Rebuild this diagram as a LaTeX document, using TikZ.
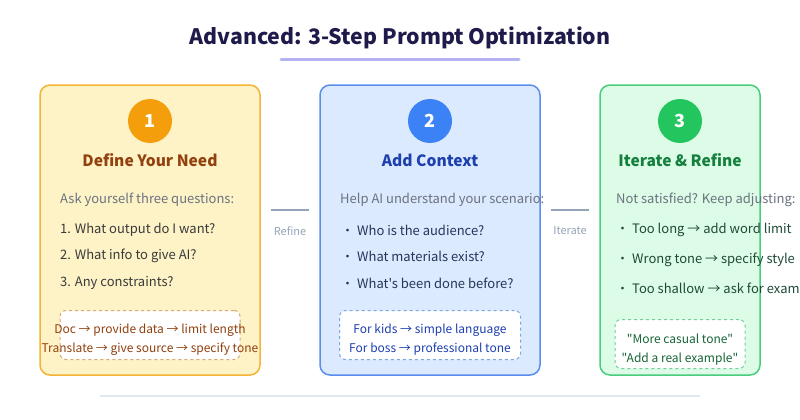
\documentclass[tikz,border=0pt]{standalone}
\usepackage{fontspec}
\setmainfont{Noto Sans CJK SC}[Ligatures=TeXOff]
\usepackage{tikz}
\usetikzlibrary{positioning,calc}
\definecolor{titleink}{HTML}{1E1B4B}
\definecolor{underlinelav}{HTML}{B4B2F2}
\definecolor{leadgray}{HTML}{6B7280}
\definecolor{itemink}{HTML}{3A3A3A}
\definecolor{linkgray}{HTML}{94A3B8}
\definecolor{rulegray}{HTML}{E2E8F0}
\definecolor{amberfill}{HTML}{FEF3C7}
\definecolor{amberline}{HTML}{F5B335}
\definecolor{amberdot}{HTML}{F59E0B}
\definecolor{amberink}{HTML}{92400E}
\definecolor{amberdash}{HTML}{D9A870}
\definecolor{bluefill}{HTML}{DBEAFE}
\definecolor{blueline}{HTML}{5B8DEF}
\definecolor{bluedot}{HTML}{3B82F6}
\definecolor{blueink}{HTML}{1E40AF}
\definecolor{blueitem}{HTML}{25365A}
\definecolor{bluedash}{HTML}{7EA6E0}
\definecolor{greenfill}{HTML}{DCFCE7}
\definecolor{greenline}{HTML}{4ACD7A}
\definecolor{greendot}{HTML}{22C55E}
\definecolor{greenink}{HTML}{15803D}
\definecolor{greenitem}{HTML}{1F4A36}
\definecolor{greendark}{HTML}{166534}
\definecolor{greendash}{HTML}{6FCF97}

\begin{document}
\begin{tikzpicture}[x=1pt, y=-1pt,
  every node/.style={font=\fontsize{13}{16}\selectfont, inner sep=0pt},
  card/.style={draw, line width=1.5pt, rounded corners=10pt, minimum height=290pt},
  badge/.style={circle, minimum size=44pt, text=white, font=\fontsize{18}{21}\selectfont\bfseries},
  steptitle/.style={font=\fontsize{15.6}{19}\selectfont\bfseries},
  lead/.style={anchor=west, text=leadgray},
  item/.style={anchor=west},
  tipbox/.style={draw, dashed, fill=white, rounded corners=6pt, line width=1pt},
  tiptext/.style={align=center, font=\fontsize{12}{19}\selectfont},
  link/.style={draw=linkgray, line width=1.5pt},
  linklabel/.style={font=\fontsize{11}{13}\selectfont, text=linkgray}]
\useasboundingbox (0,0) rectangle (800,420);

% heading
\node[font=\fontsize{21.3}{26}\selectfont\bfseries, text=titleink] (head) at (400,38) {Advanced: 3-Step Prompt Optimization};
\coordinate (ulL) at (281,60);
\coordinate (ulR) at (519,60);
\draw[underlinelav, line width=3pt, line cap=round] (ulL) -- (ulR);

% step 1
\node[card, fill=amberfill, draw=amberline, minimum width=220pt] (box1) at (150,230) {};
\node[badge, fill=amberdot] (num1) at (150,121) {1};
\node[steptitle, text=amberink] (title1) at (150,160) {Define Your Need};
\node[lead] (lead1) at (60,200) {Ask yourself three questions:};
\node[item, text=itemink] (q1) at (60,230) {1. What output do I want?};
\node[item, text=itemink] (q2) at (60,256) {2. What info to give AI?};
\node[item, text=itemink] (q3) at (60,283) {3. Any constraints?};
\node[tipbox, draw=amberdash, minimum width=180pt, minimum height=49pt] (tip1) at (150,335) {};
\node[tiptext, text=amberink] (tip1txt) at (150,340) {Doc → provide data → limit length\\Translate → give source → specify tone};

% step 2
\node[card, fill=bluefill, draw=blueline, minimum width=220pt] (box2) at (430,230) {};
\node[badge, fill=bluedot] (num2) at (430,121) {2};
\node[steptitle, text=blueink] (title2) at (430,160) {Add Context};
\node[lead] (lead2) at (340,200) {Help AI understand your scenario:};
\node[item, text=blueitem] (c1) at (341,230) {・\hspace{3pt}Who is the audience?};
\node[item, text=blueitem] (c2) at (341,256) {・\hspace{3pt}What materials exist?};
\node[item, text=blueitem] (c3) at (341,283) {・\hspace{3pt}What's been done before?};
\node[tipbox, draw=bluedash, minimum width=181pt, minimum height=49pt] (tip2) at (430,335) {};
\node[tiptext, text=blueink] (tip2txt) at (430,340) {For kids → simple language\\For boss → professional tone};

% step 3
\node[card, fill=greenfill, draw=greenline, minimum width=160pt] (box3) at (680,230) {};
\node[badge, fill=greendot] (num3) at (680,121) {3};
\node[steptitle, text=greenink] (title3) at (680,160) {Iterate \& Refine};
\node[lead] (lead3) at (616,200) {Not satisfied? Keep adjusting:};
\node[item, text=greenitem] (r1) at (616,230) {・\hspace{3pt}Too long → add word limit};
\node[item, text=greenitem] (r2) at (616,260) {・\hspace{3pt}Wrong tone → specify style};
\node[item, text=greenitem] (r3) at (616,290) {・\hspace{3pt}Too shallow → ask for examples};
\node[tipbox, draw=greendash, minimum width=130pt, minimum height=49pt] (tip3) at (680,344) {};
\node[tiptext, text=greendark] (tip3txt) at (680,350) {"More casual tone"\\"Add a real example"};

% links between steps
\draw[link] ([shift={(10,-20)}]box1.east) -- ([shift={(-10,-20)}]box2.west) node[midway, below=16pt, linklabel] {Refine};
\draw[link] ([shift={(10,-20)}]box2.east) -- ([shift={(-10,-20)}]box3.west) node[midway, below=16pt, linklabel] {Iterate};

% footer rule
\coordinate (ftL) at (100,396);
\coordinate (ftR) at (700,396);
\draw[rulegray, line width=2pt] (ftL) -- (ftR);
\end{tikzpicture}
\end{document}
